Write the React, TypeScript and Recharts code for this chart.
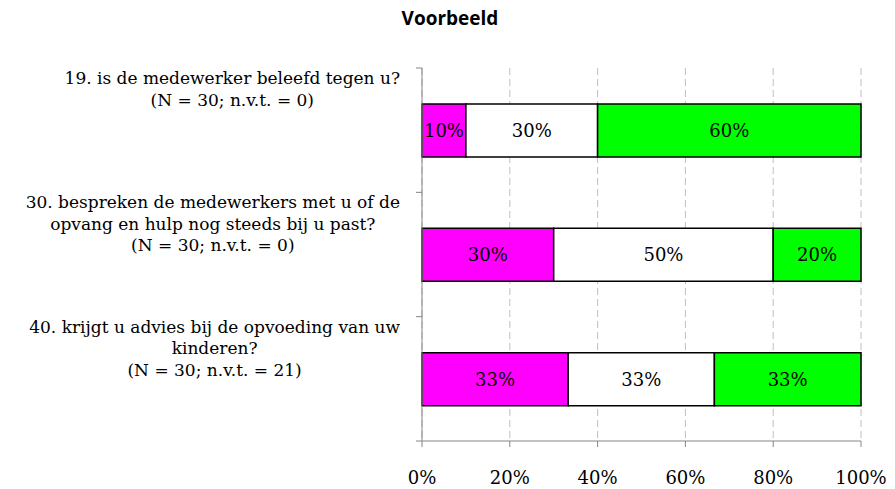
import React from 'react';
import { BarChart, Bar, XAxis, YAxis, CartesianGrid, LabelList } from 'recharts';

const questions = [
  ['19. is de medewerker beleefd tegen u?', '(N = 30; n.v.t. = 0)'],
  ['30. bespreken de medewerkers met u of de', 'opvang en hulp nog steeds bij u past?', '(N = 30; n.v.t. = 0)'],
  ['40. krijgt u advies bij de opvoeding van uw', 'kinderen?', '(N = 30; n.v.t. = 21)'],
];
const negative = [10, 30, 33.3];
const neutral = [30, 50, 33.3];
const positive = [60, 20, 33.4];
const xTicks = [0, 20, 40, 60, 80, 100];

const W = 895;
const H = 489;
const TOP = 68;
const AXIS_W = 422;
const X_H = 48;
const band = (H - TOP - X_H) / questions.length;

const data = questions.map((q, i) => ({
  name: q.join('|'),
  negative: negative[i],
  neutral: neutral[i],
  positive: positive[i],
}));

const serif = '"DejaVu Serif", serif';
const axisGray = '#868686';

const QuestionTick = ({ y, payload, index }: any) => {
  const lines = String(payload.value).split('|');
  const top = y - band / 2;
  return (
    <g>
      <line x1={AXIS_W - 6} x2={AXIS_W} y1={top} y2={top} stroke={axisGray} />
      {index === questions.length - 1 && (
        <line x1={AXIS_W - 6} x2={AXIS_W} y1={top + band} y2={top + band} stroke={axisGray} />
      )}
      <foreignObject x={0} y={top} width={AXIS_W - 22} height={band}>
        <div style={{ display: 'flex', justifyContent: 'flex-end', width: '100%' }}>
          <div style={{ textAlign: 'center', fontFamily: serif, fontSize: 17, lineHeight: '21.5px', color: '#000', whiteSpace: 'nowrap' }}>
            {lines.map((l, k) => (
              <div key={k}>{l}</div>
            ))}
          </div>
        </div>
      </foreignObject>
    </g>
  );
};

const pct = (v: any) => `${Math.round(Number(v))}%`;
const labelStyle = { fontFamily: serif, fontSize: 18, fill: '#000' };

export default function App() {
  return (
    <div style={{ position: 'absolute', left: 0, top: 0, width: W, height: H, background: '#fff' }}>
      <div
        style={{
          position: 'absolute',
          left: 350,
          width: 200,
          top: 5,
          textAlign: 'center',
          fontFamily: '"Open Sans", sans-serif',
          fontWeight: 700,
          fontSize: 19,
          lineHeight: '26px',
          color: '#000',
        }}
      >
        Voorbeeld
      </div>
      <BarChart
        width={W}
        height={H}
        data={data}
        layout="vertical"
        margin={{ top: TOP, right: 34, left: 0, bottom: 0 }}
        barSize={53}
      >
        <CartesianGrid horizontal={false} stroke="#BFBFBF" strokeDasharray="7 4" />
        <XAxis
          type="number"
          domain={[0, 100]}
          ticks={xTicks}
          tickFormatter={(v) => `${v}%`}
          height={X_H}
          stroke={axisGray}
          tickSize={6}
          tickMargin={24}
          tick={{ fontFamily: serif, fontSize: 18, fill: '#000' }}
        />
        <YAxis
          type="category"
          dataKey="name"
          width={AXIS_W}
          stroke={axisGray}
          tickLine={false}
          tick={<QuestionTick />}
          interval={0}
        />
        <Bar dataKey="negative" stackId="a" fill="#FF00FF" stroke="#000" strokeWidth={1.5} isAnimationActive={false}>
          <LabelList dataKey="negative" position="center" formatter={pct} style={labelStyle} />
        </Bar>
        <Bar dataKey="neutral" stackId="a" fill="#FFFFFF" stroke="#000" strokeWidth={1.5} isAnimationActive={false}>
          <LabelList dataKey="neutral" position="center" formatter={pct} style={labelStyle} />
        </Bar>
        <Bar dataKey="positive" stackId="a" fill="#00FF00" stroke="#000" strokeWidth={1.5} isAnimationActive={false}>
          <LabelList dataKey="positive" position="center" formatter={pct} style={labelStyle} />
        </Bar>
      </BarChart>
    </div>
  );
}
